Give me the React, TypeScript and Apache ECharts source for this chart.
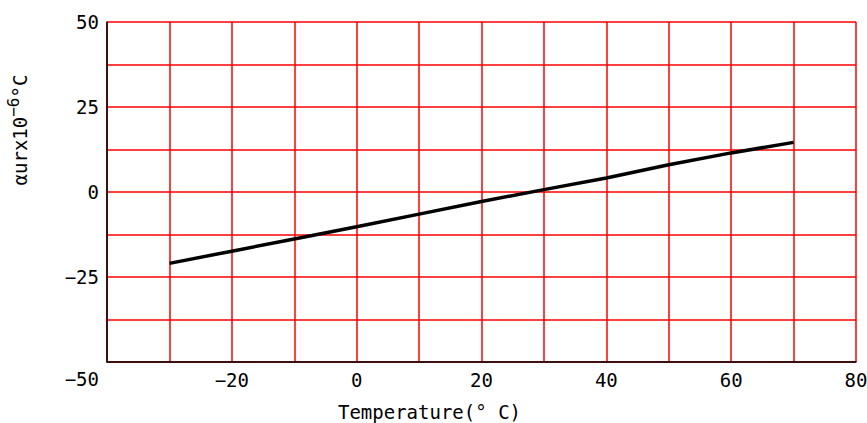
import React, { useEffect, useRef } from "react";
import * as echarts from "echarts";

const temperatures = [-30, -20, -10, 0, 10, 20, 30, 40, 50, 60, 70];
const alphaValues = [-21, -17.4, -13.8, -10.2, -6.5, -2.8, 0.7, 4.1, 8.0, 11.5, 14.6];
const xLabels = [-20, 0, 20, 40, 60, 80];
const yLabels = [-50, -25, 0, 25, 50];

const FONT = "DejaVu Sans Mono";

export default function App() {
  const ref = useRef<HTMLDivElement>(null);
  useEffect(() => {
    if (!ref.current) return;
    const chart = echarts.init(ref.current, null, { renderer: "svg" });
    chart.setOption({
      animation: false,
      backgroundColor: "#ffffff",
      grid: {
        left: 107,
        right: 11,
        top: 22,
        bottom: 61,
        containLabel: false,
        outerBoundsMode: "none",
      },
      xAxis: {
        type: "value",
        min: -40,
        max: 80,
        interval: 10,
        name: "Temperature(° C)",
        nameLocation: "middle",
        nameGap: 40,
        nameTextStyle: { fontFamily: FONT, fontSize: 19, color: "#000", padding: [0, 104, 0, 0] },
        axisLine: { show: true, onZero: false, lineStyle: { color: "#000", width: 1.5 } },
        axisTick: { show: false },
        axisLabel: {
          fontFamily: FONT,
          fontSize: 19,
          color: "#000",
          margin: 8,
          formatter: (v: number) => (xLabels.indexOf(v) >= 0 ? (v < 0 ? "−" + Math.abs(v) : String(v)) : ""),
        },
        splitLine: { show: true, lineStyle: { color: "#ff0000", width: 1.5 } },
      },
      yAxis: {
        type: "value",
        min: -50,
        max: 50,
        interval: 12.5,
        name: "{t|αurx10}{s|−6}{t|°C}",
        nameLocation: "middle",
        nameGap: 72,
        nameTextStyle: {
          fontFamily: FONT,
          fontSize: 19,
          color: "#000",
          padding: [0, 0, 0, 124],
          rich: {
            t: { fontFamily: FONT, fontSize: 19, lineHeight: 30, color: "#000" },
            s: { fontFamily: FONT, fontSize: 16, lineHeight: 16, color: "#000", verticalAlign: "top" },
          },
        },
        axisLine: { show: true, onZero: false, lineStyle: { color: "#000", width: 1.5 } },
        axisTick: { show: false },
        axisLabel: {
          fontFamily: FONT,
          fontSize: 19,
          color: "#000",
          margin: 8,
          formatter: (v: number) => {
            if (yLabels.indexOf(v) < 0) return "";
            if (v === -50) return "{low|−50}";
            return v < 0 ? "−" + Math.abs(v) : String(v);
          },
          rich: {
            low: { fontFamily: FONT, fontSize: 19, color: "#000", padding: [34, 0, 0, 0] },
          },
        },
        splitLine: { show: true, lineStyle: { color: "#ff0000", width: 1.5 } },
      },
      series: [
        {
          type: "line",
          data: temperatures.map((t, i) => [t, alphaValues[i]]),
          showSymbol: false,
          lineStyle: { color: "#000", width: 3.5 },
          z: 5,
        },
      ],
    });
    return () => chart.dispose();
  }, []);
  return (
    <div
      ref={ref}
      style={{ position: "fixed", left: 0, top: 0, width: 867, height: 423 }}
    />
  );
}
